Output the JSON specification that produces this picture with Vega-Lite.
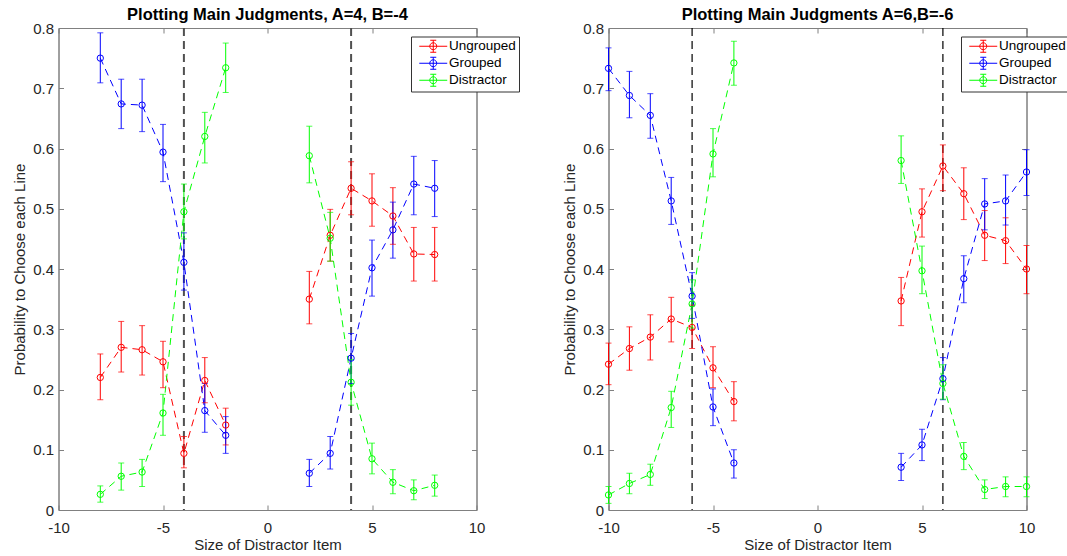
{
  "$schema": "https://vega.github.io/schema/vega-lite/v6.json",
  "padding": {"left": 11.5, "top": 6, "right": 0, "bottom": 0},
  "bounds": "flush",
  "spacing": 132,
  "datasets": {
    "a": [
      {"s": "Ungrouped", "seg": 1, "x": -8, "y": 0.220, "lo": 0.183, "hi": 0.259},
      {"s": "Ungrouped", "seg": 1, "x": -7, "y": 0.270, "lo": 0.229, "hi": 0.313},
      {"s": "Ungrouped", "seg": 1, "x": -6, "y": 0.266, "lo": 0.224, "hi": 0.306},
      {"s": "Ungrouped", "seg": 1, "x": -5, "y": 0.246, "lo": 0.203, "hi": 0.280},
      {"s": "Ungrouped", "seg": 1, "x": -4, "y": 0.094, "lo": 0.070, "hi": 0.122},
      {"s": "Ungrouped", "seg": 1, "x": -3, "y": 0.215, "lo": 0.178, "hi": 0.253},
      {"s": "Ungrouped", "seg": 1, "x": -2, "y": 0.141, "lo": 0.108, "hi": 0.169},
      {"s": "Ungrouped", "seg": 2, "x": 2, "y": 0.350, "lo": 0.309, "hi": 0.396},
      {"s": "Ungrouped", "seg": 2, "x": 3, "y": 0.456, "lo": 0.413, "hi": 0.499},
      {"s": "Ungrouped", "seg": 2, "x": 4, "y": 0.534, "lo": 0.490, "hi": 0.578},
      {"s": "Ungrouped", "seg": 2, "x": 5, "y": 0.513, "lo": 0.471, "hi": 0.558},
      {"s": "Ungrouped", "seg": 2, "x": 6, "y": 0.488, "lo": 0.441, "hi": 0.535},
      {"s": "Ungrouped", "seg": 2, "x": 7, "y": 0.425, "lo": 0.380, "hi": 0.469},
      {"s": "Ungrouped", "seg": 2, "x": 8, "y": 0.424, "lo": 0.380, "hi": 0.469},
      {"s": "Grouped", "seg": 1, "x": -8, "y": 0.750, "lo": 0.709, "hi": 0.792},
      {"s": "Grouped", "seg": 1, "x": -7, "y": 0.674, "lo": 0.633, "hi": 0.715},
      {"s": "Grouped", "seg": 1, "x": -6, "y": 0.672, "lo": 0.628, "hi": 0.715},
      {"s": "Grouped", "seg": 1, "x": -5, "y": 0.594, "lo": 0.545, "hi": 0.640},
      {"s": "Grouped", "seg": 1, "x": -4, "y": 0.411, "lo": 0.365, "hi": 0.460},
      {"s": "Grouped", "seg": 1, "x": -3, "y": 0.165, "lo": 0.129, "hi": 0.210},
      {"s": "Grouped", "seg": 1, "x": -2, "y": 0.124, "lo": 0.094, "hi": 0.155},
      {"s": "Grouped", "seg": 2, "x": 2, "y": 0.061, "lo": 0.039, "hi": 0.084},
      {"s": "Grouped", "seg": 2, "x": 3, "y": 0.094, "lo": 0.068, "hi": 0.122},
      {"s": "Grouped", "seg": 2, "x": 4, "y": 0.252, "lo": 0.210, "hi": 0.293},
      {"s": "Grouped", "seg": 2, "x": 5, "y": 0.402, "lo": 0.355, "hi": 0.448},
      {"s": "Grouped", "seg": 2, "x": 6, "y": 0.465, "lo": 0.418, "hi": 0.511},
      {"s": "Grouped", "seg": 2, "x": 7, "y": 0.541, "lo": 0.490, "hi": 0.587},
      {"s": "Grouped", "seg": 2, "x": 8, "y": 0.534, "lo": 0.487, "hi": 0.580},
      {"s": "Distractor", "seg": 1, "x": -8, "y": 0.026, "lo": 0.013, "hi": 0.040},
      {"s": "Distractor", "seg": 1, "x": -7, "y": 0.056, "lo": 0.033, "hi": 0.078},
      {"s": "Distractor", "seg": 1, "x": -6, "y": 0.063, "lo": 0.039, "hi": 0.084},
      {"s": "Distractor", "seg": 1, "x": -5, "y": 0.161, "lo": 0.124, "hi": 0.192},
      {"s": "Distractor", "seg": 1, "x": -4, "y": 0.495, "lo": 0.450, "hi": 0.541},
      {"s": "Distractor", "seg": 1, "x": -3, "y": 0.620, "lo": 0.576, "hi": 0.660},
      {"s": "Distractor", "seg": 1, "x": -2, "y": 0.734, "lo": 0.693, "hi": 0.775},
      {"s": "Distractor", "seg": 2, "x": 2, "y": 0.588, "lo": 0.543, "hi": 0.637},
      {"s": "Distractor", "seg": 2, "x": 3, "y": 0.451, "lo": 0.413, "hi": 0.494},
      {"s": "Distractor", "seg": 2, "x": 4, "y": 0.212, "lo": 0.174, "hi": 0.250},
      {"s": "Distractor", "seg": 2, "x": 5, "y": 0.085, "lo": 0.060, "hi": 0.111},
      {"s": "Distractor", "seg": 2, "x": 6, "y": 0.046, "lo": 0.027, "hi": 0.067},
      {"s": "Distractor", "seg": 2, "x": 7, "y": 0.032, "lo": 0.017, "hi": 0.050},
      {"s": "Distractor", "seg": 2, "x": 8, "y": 0.041, "lo": 0.023, "hi": 0.058}
    ],
    "b": [
      {"s": "Ungrouped", "seg": 1, "x": -10, "y": 0.242, "lo": 0.208, "hi": 0.277},
      {"s": "Ungrouped", "seg": 1, "x": -9, "y": 0.268, "lo": 0.232, "hi": 0.304},
      {"s": "Ungrouped", "seg": 1, "x": -8, "y": 0.287, "lo": 0.249, "hi": 0.324},
      {"s": "Ungrouped", "seg": 1, "x": -7, "y": 0.317, "lo": 0.279, "hi": 0.353},
      {"s": "Ungrouped", "seg": 1, "x": -6, "y": 0.303, "lo": 0.268, "hi": 0.340},
      {"s": "Ungrouped", "seg": 1, "x": -5, "y": 0.236, "lo": 0.203, "hi": 0.271},
      {"s": "Ungrouped", "seg": 1, "x": -4, "y": 0.180, "lo": 0.148, "hi": 0.213},
      {"s": "Ungrouped", "seg": 2, "x": 4, "y": 0.347, "lo": 0.306, "hi": 0.386},
      {"s": "Ungrouped", "seg": 2, "x": 5, "y": 0.495, "lo": 0.453, "hi": 0.533},
      {"s": "Ungrouped", "seg": 2, "x": 6, "y": 0.571, "lo": 0.530, "hi": 0.606},
      {"s": "Ungrouped", "seg": 2, "x": 7, "y": 0.525, "lo": 0.482, "hi": 0.568},
      {"s": "Ungrouped", "seg": 2, "x": 8, "y": 0.456, "lo": 0.414, "hi": 0.497},
      {"s": "Ungrouped", "seg": 2, "x": 9, "y": 0.447, "lo": 0.409, "hi": 0.485},
      {"s": "Ungrouped", "seg": 2, "x": 10, "y": 0.400, "lo": 0.359, "hi": 0.439},
      {"s": "Grouped", "seg": 1, "x": -10, "y": 0.733, "lo": 0.696, "hi": 0.767},
      {"s": "Grouped", "seg": 1, "x": -9, "y": 0.688, "lo": 0.651, "hi": 0.728},
      {"s": "Grouped", "seg": 1, "x": -8, "y": 0.655, "lo": 0.617, "hi": 0.691},
      {"s": "Grouped", "seg": 1, "x": -7, "y": 0.513, "lo": 0.474, "hi": 0.552},
      {"s": "Grouped", "seg": 1, "x": -6, "y": 0.355, "lo": 0.318, "hi": 0.394},
      {"s": "Grouped", "seg": 1, "x": -5, "y": 0.171, "lo": 0.140, "hi": 0.201},
      {"s": "Grouped", "seg": 1, "x": -4, "y": 0.078, "lo": 0.053, "hi": 0.100},
      {"s": "Grouped", "seg": 2, "x": 4, "y": 0.071, "lo": 0.049, "hi": 0.094},
      {"s": "Grouped", "seg": 2, "x": 5, "y": 0.108, "lo": 0.082, "hi": 0.134},
      {"s": "Grouped", "seg": 2, "x": 6, "y": 0.218, "lo": 0.183, "hi": 0.253},
      {"s": "Grouped", "seg": 2, "x": 7, "y": 0.384, "lo": 0.344, "hi": 0.422},
      {"s": "Grouped", "seg": 2, "x": 8, "y": 0.508, "lo": 0.465, "hi": 0.550},
      {"s": "Grouped", "seg": 2, "x": 9, "y": 0.513, "lo": 0.473, "hi": 0.556},
      {"s": "Grouped", "seg": 2, "x": 10, "y": 0.561, "lo": 0.522, "hi": 0.598},
      {"s": "Distractor", "seg": 1, "x": -10, "y": 0.025, "lo": 0.011, "hi": 0.039},
      {"s": "Distractor", "seg": 1, "x": -9, "y": 0.044, "lo": 0.027, "hi": 0.061},
      {"s": "Distractor", "seg": 1, "x": -8, "y": 0.059, "lo": 0.041, "hi": 0.076},
      {"s": "Distractor", "seg": 1, "x": -7, "y": 0.170, "lo": 0.137, "hi": 0.197},
      {"s": "Distractor", "seg": 1, "x": -6, "y": 0.342, "lo": 0.302, "hi": 0.382},
      {"s": "Distractor", "seg": 1, "x": -5, "y": 0.591, "lo": 0.553, "hi": 0.633},
      {"s": "Distractor", "seg": 1, "x": -4, "y": 0.742, "lo": 0.705, "hi": 0.778},
      {"s": "Distractor", "seg": 2, "x": 4, "y": 0.580, "lo": 0.542, "hi": 0.621},
      {"s": "Distractor", "seg": 2, "x": 5, "y": 0.397, "lo": 0.359, "hi": 0.438},
      {"s": "Distractor", "seg": 2, "x": 6, "y": 0.210, "lo": 0.184, "hi": 0.241},
      {"s": "Distractor", "seg": 2, "x": 7, "y": 0.089, "lo": 0.067, "hi": 0.112},
      {"s": "Distractor", "seg": 2, "x": 8, "y": 0.034, "lo": 0.019, "hi": 0.050},
      {"s": "Distractor", "seg": 2, "x": 9, "y": 0.039, "lo": 0.022, "hi": 0.055},
      {"s": "Distractor", "seg": 2, "x": 10, "y": 0.039, "lo": 0.022, "hi": 0.055}
    ]
  },
  "hconcat": [
    {
      "width": 418,
      "height": 482,
      "title": {"text": "Plotting Main Judgments, A=4, B=-4"},
      "data": {"name": "a"},
      "layer": [
        {
          "data": {"values": [{"v": -4}, {"v": 4}]},
          "mark": {"type": "rule", "color": "#505050", "strokeWidth": 2, "strokeDash": [8, 5]},
          "encoding": {"x": {"field": "v", "type": "quantitative", "scale": {"domain": [-10, 10]}, "axis": null}}
        },
        {
          "mark": {"type": "line", "strokeWidth": 1, "strokeDash": [7, 5]},
          "encoding": {
            "x": {"field": "x", "type": "quantitative", "scale": {"domain": [-10, 10]}, "axis": {"title": "Size of Distractor Item", "values": [-10, -5, 0, 5, 10], "labelExpr": "'' + datum.value", "labelPadding": 15, "titlePadding": 2}},
            "y": {"field": "y", "type": "quantitative", "scale": {"domain": [0, 0.8]}, "axis": {"title": "Probability to Choose each Line", "values": [0, 0.1, 0.2, 0.3, 0.4, 0.5, 0.6, 0.7, 0.8], "format": "~g", "titlePadding": 5.5}},
            "color": {"field": "s", "type": "nominal", "scale": {"domain": ["Ungrouped", "Grouped", "Distractor"], "range": ["#ff0000", "#0000ff", "#00ff00"]}, "legend": {"orient": "none", "legendX": 352.5, "legendY": 8.5, "labelExpr": "datum.label + '\u00a0\u00a0'", "encode": {"symbols": {"update": {"fill": {"value": "transparent"}, "fillOpacity": {"value": 0}, "strokeDash": {"value": [100, 0]}}}}}},
            "detail": {"field": "seg"},
            "order": {"field": "x"}
          }
        },
        {
          "mark": {"type": "rule", "strokeWidth": 1},
          "encoding": {
            "x": {"field": "x", "type": "quantitative", "axis": {"orient": "top", "labels": false, "title": null, "values": [-10, -5, 0, 5, 10]}},
            "y": {"field": "lo", "type": "quantitative", "axis": {"orient": "right", "labels": false, "title": null, "values": [0, 0.1, 0.2, 0.3, 0.4, 0.5, 0.6, 0.7, 0.8]}},
            "y2": {"field": "hi"},
            "color": {"field": "s", "type": "nominal", "legend": null}
          }
        },
        {
          "mark": {"type": "tick", "orient": "horizontal", "size": 6, "thickness": 1},
          "encoding": {
            "x": {"field": "x", "type": "quantitative", "axis": null},
            "y": {"field": "lo", "type": "quantitative", "axis": null},
            "color": {"field": "s", "type": "nominal", "legend": null}
          }
        },
        {
          "mark": {"type": "tick", "orient": "horizontal", "size": 6, "thickness": 1},
          "encoding": {
            "x": {"field": "x", "type": "quantitative", "axis": null},
            "y": {"field": "hi", "type": "quantitative", "axis": null},
            "color": {"field": "s", "type": "nominal", "legend": null}
          }
        },
        {
          "mark": {"type": "point", "shape": "circle", "filled": false, "size": 40, "strokeWidth": 1, "opacity": 1},
          "encoding": {
            "x": {"field": "x", "type": "quantitative", "axis": null},
            "y": {"field": "y", "type": "quantitative", "axis": null},
            "color": {"field": "s", "type": "nominal", "legend": null}
          }
        }
      ],
      "resolve": {"axis": {"x": "independent", "y": "independent"}}
    },
    {
      "width": 418,
      "height": 482,
      "title": {"text": "Plotting Main Judgments A=6,B=-6"},
      "data": {"name": "b"},
      "layer": [
        {
          "data": {"values": [{"v": -6}, {"v": 6}]},
          "mark": {"type": "rule", "color": "#000000", "strokeWidth": 1.2, "strokeDash": [8, 5]},
          "encoding": {"x": {"field": "v", "type": "quantitative", "scale": {"domain": [-10, 10]}, "axis": null}}
        },
        {
          "mark": {"type": "line", "strokeWidth": 1, "strokeDash": [7, 5]},
          "encoding": {
            "x": {"field": "x", "type": "quantitative", "scale": {"domain": [-10, 10]}, "axis": {"title": "Size of Distractor Item", "values": [-10, -5, 0, 5, 10], "labelExpr": "'' + datum.value", "labelPadding": 15, "titlePadding": 2}},
            "y": {"field": "y", "type": "quantitative", "scale": {"domain": [0, 0.8]}, "axis": {"title": "Probability to Choose each Line", "values": [0, 0.1, 0.2, 0.3, 0.4, 0.5, 0.6, 0.7, 0.8], "format": "~g", "titlePadding": 5.5}},
            "color": {"field": "s", "type": "nominal", "scale": {"domain": ["Ungrouped", "Grouped", "Distractor"], "range": ["#ff0000", "#0000ff", "#00ff00"]}, "legend": {"orient": "none", "legendX": 352.5, "legendY": 8.5, "labelExpr": "datum.label + '\u00a0\u00a0'", "encode": {"symbols": {"update": {"fill": {"value": "transparent"}, "fillOpacity": {"value": 0}, "strokeDash": {"value": [100, 0]}}}}}},
            "detail": {"field": "seg"},
            "order": {"field": "x"}
          }
        },
        {
          "mark": {"type": "rule", "strokeWidth": 1},
          "encoding": {
            "x": {"field": "x", "type": "quantitative", "axis": {"orient": "top", "labels": false, "title": null, "values": [-10, -5, 0, 5, 10]}},
            "y": {"field": "lo", "type": "quantitative", "axis": {"orient": "right", "labels": false, "title": null, "values": [0, 0.1, 0.2, 0.3, 0.4, 0.5, 0.6, 0.7, 0.8]}},
            "y2": {"field": "hi"},
            "color": {"field": "s", "type": "nominal", "legend": null}
          }
        },
        {
          "mark": {"type": "tick", "orient": "horizontal", "size": 6, "thickness": 1},
          "encoding": {
            "x": {"field": "x", "type": "quantitative", "axis": null},
            "y": {"field": "lo", "type": "quantitative", "axis": null},
            "color": {"field": "s", "type": "nominal", "legend": null}
          }
        },
        {
          "mark": {"type": "tick", "orient": "horizontal", "size": 6, "thickness": 1},
          "encoding": {
            "x": {"field": "x", "type": "quantitative", "axis": null},
            "y": {"field": "hi", "type": "quantitative", "axis": null},
            "color": {"field": "s", "type": "nominal", "legend": null}
          }
        },
        {
          "mark": {"type": "point", "shape": "circle", "filled": false, "size": 40, "strokeWidth": 1, "opacity": 1},
          "encoding": {
            "x": {"field": "x", "type": "quantitative", "axis": null},
            "y": {"field": "y", "type": "quantitative", "axis": null},
            "color": {"field": "s", "type": "nominal", "legend": null}
          }
        }
      ],
      "resolve": {"axis": {"x": "independent", "y": "independent"}}
    }
  ],
  "resolve": {"scale": {"color": "independent"}, "legend": {"color": "independent"}},
  "config": {
    "font": "Liberation Sans",
    "view": {"stroke": "#808080", "strokeWidth": 1},
    "title": {"fontSize": 16.5, "fontWeight": "bold", "color": "#000000", "frame": "group", "anchor": "middle", "offset": -2},
    "axis": {
      "grid": false,
      "domainColor": "#808080",
      "tickColor": "#808080",
      "tickSize": -5,
      "labelPadding": 10,
      "labelFontSize": 15,
      "labelColor": "#262626",
      "labelFlush": false,
      "labelOverlap": false,
      "labelBound": false,
      "titleFontSize": 15,
      "titleFontWeight": "normal",
      "titleColor": "#262626"
    },
    "legend": {
      "symbolType": "M-2.33,0H2.33M0,-1V1M-0.5,-1H0.5M-0.5,1H0.5M0.58,0A0.58,0.58,0,1,1,-0.58,0A0.58,0.58,0,1,1,0.58,0",
      "symbolSize": 144,
      "symbolStrokeWidth": 1,
      "symbolFillColor": "transparent",
      "symbolOffset": 12.5,
      "labelOffset": 9,
      "labelFontSize": 13.5,
      "labelColor": "#000000",
      "padding": 3,
      "rowPadding": 0,
      "fillColor": "#ffffff",
      "strokeColor": "#333333",
      "title": null
    }
  }
}
